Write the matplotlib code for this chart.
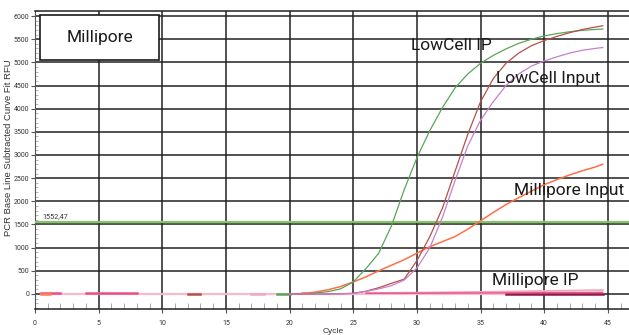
import numpy as np
import matplotlib
matplotlib.use("Agg")
import matplotlib.pyplot as plt
from matplotlib.patches import Rectangle
from matplotlib.ticker import MultipleLocator

# amplification curves (cycle, RFU)
cycles = [20, 21, 22, 23, 24, 25, 26, 27, 28, 29, 30, 31, 32, 33, 34, 35,
          36, 37, 38, 39, 40, 41, 42, 43, 44, 44.6]
lowcell_ip = [0, 5, 20, 50, 110, 260, 550, 880, 1470, 2250, 2940, 3520, 4020,
              4450, 4750, 4980, 5150, 5290, 5410, 5500, 5570, 5620, 5660,
              5690, 5710, 5720]
lowcell_input_a = [0, 0, 0, 0, 5, 15, 60, 135, 230, 320, 720, 1230, 1850,
                   2650, 3450, 4150, 4650, 4980, 5200, 5360, 5470, 5560,
                   5640, 5710, 5760, 5790]
lowcell_input_b = [0, 0, 0, 0, 5, 10, 55, 110, 180, 300, 560, 990, 1650,
                   2450, 3200, 3750, 4150, 4500, 4750, 4920, 5030, 5120,
                   5200, 5260, 5300, 5320]
millipore_input = [0, 10, 40, 90, 160, 260, 370, 500, 620, 740, 880, 1020,
                   1130, 1240, 1400, 1580, 1760, 1930, 2080, 2220, 2360,
                   2470, 2570, 2660, 2740, 2800]

# Millipore IP traces stay near the baseline
ip_cycles = [26, 30, 35, 40, 44.6]
millipore_ip_a = [20, 30, 45, 65, 85]
millipore_ip_b = [15, 18, 22, 28, 35]

# short baseline fragments: (start, end, level, colour)
fragments = [(0.5, 2, 30, "#e8508a"), (0.5, 1.2, -10, "#ff7f50"),
             (4, 8, 15, "#e8508a"), (12, 13, 10, "#b5504a"),
             (17, 18, 8, "#f4a6bc"), (19, 20, 8, "#5aa55a"),
             (21, 22, 30, "#ff7f50"), (37, 44.6, 0, "#8b1a4a")]

threshold = 1552.47

tick_font = ["Roboto", "DejaVu Sans"]

fig = plt.figure(figsize=(6.29, 3.35), dpi=100)
ax = fig.add_axes([35 / 629, 1 - 309 / 335, 1 - 35 / 629, 298 / 335])
ax.set_xlim(0, 46.66)
ax.set_ylim(-324, 6108)

# grid
for gx in range(5, 50, 5):
    ax.axvline(gx, color="#222222", lw=1.1, zorder=1)
for gy in range(0, 6500, 500):
    ax.axhline(gy, color="#222222", lw=1.1, zorder=1)

# baseline
ax.plot([0.5, 44.6], [0, 0], color="#f7bccb", lw=1.6, zorder=3)
for x0, x1, lev, col in fragments:
    ax.plot([x0, x1], [lev, lev], color=col, lw=1.8, zorder=4)

ax.axhline(threshold, color="#86c46a", lw=1.6, zorder=3)
ax.text(0.6, threshold + 90, "1552,47", fontsize=5.2, color="#333333",
        family=tick_font, zorder=6)

ax.plot(cycles, millipore_input, color="#ff7048", lw=1.1, zorder=5)
ax.plot(cycles, lowcell_ip, color="#5aa55a", lw=0.9, zorder=5)
ax.plot(cycles, lowcell_input_a, color="#b5504a", lw=0.9, zorder=5)
ax.plot(cycles, lowcell_input_b, color="#c97fcf", lw=0.9, zorder=5)
ax.plot(ip_cycles, millipore_ip_a, color="#f4a6bc", lw=1.3, zorder=5)
ax.plot(ip_cycles, millipore_ip_b, color="#e8508a", lw=1.0, zorder=5)

# labels on the curves
lab = dict(fontsize=12.5, family=["Roboto", "DejaVu Sans"], color="#1a1a1a",
           va="center")
ax.text(29.5, 5360, "LowCell IP", zorder=7, **lab)
ax.text(36.2, 4650, "LowCell Input", zorder=7, **lab)
ax.text(37.6, 2230, "Millipore Input", zorder=7, **lab)
ax.text(35.9, 300, "Millipore IP", zorder=7, **lab)

ax.add_patch(Rectangle((0.39, 5050), 9.35, 970, facecolor="white",
                       edgecolor="#1a1a1a", lw=1.2, zorder=8))
ax.text(5.07, 5535, "Millipore", ha="center", zorder=9, **lab)

# axes styling
ax.spines["right"].set_visible(False)
ax.spines["top"].set_color("#222222")
ax.spines["top"].set_linewidth(1.1)
ax.spines["bottom"].set_color("#222222")
ax.spines["bottom"].set_linewidth(1.1)
ax.spines["left"].set_color("#555555")

ax.xaxis.set_major_locator(MultipleLocator(5))
ax.xaxis.set_minor_locator(MultipleLocator(1))
ax.yaxis.set_major_locator(MultipleLocator(500))
ax.yaxis.set_minor_locator(MultipleLocator(100))
ax.set_xticks(range(0, 50, 5))
ax.set_yticks(range(0, 6500, 500))
ax.tick_params(axis="both", which="major", direction="out", length=3,
               width=0.8, color="#555555", labelsize=5, labelcolor="#333333",
               pad=1)
ax.tick_params(axis="x", which="minor", direction="in", length=4,
               width=0.6, color="#999999")
ax.tick_params(axis="y", which="minor", direction="in", length=2,
               width=0.5, color="#999999")
ax.tick_params(axis="x", which="major", pad=5)
for t in ax.get_xticklabels() + ax.get_yticklabels():
    t.set_family(tick_font)

fig.text(8.5 / 629, 1 - 148 / 335, "PCR Base Line Subtracted Curve Fit RFU",
         rotation=90, fontsize=6.8, color="#333333", ha="center", va="center",
         family=["Liberation Sans", "DejaVu Sans"])
fig.text(333 / 629, 1 - 328 / 335, "Cycle", fontsize=6, color="#333333",
         ha="center", va="top", family=["Liberation Sans", "DejaVu Sans"])

fig.savefig("out.png", dpi=100)
